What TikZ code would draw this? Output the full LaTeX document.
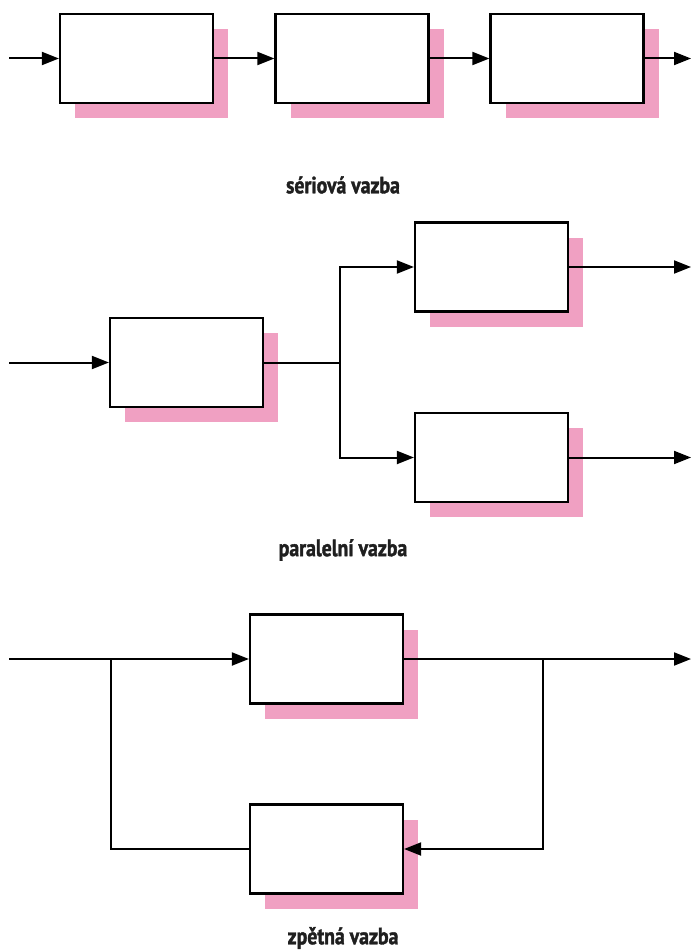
\documentclass[tikz,border=0pt]{standalone}
\usepackage{fontspec}
\setmainfont[FakeStretch=0.84,FakeBold=1.5]{PT Sans}
\usetikzlibrary{arrows.meta,shadows}
\definecolor{shpink}{RGB}{240,160,194}
\tikzset{
  blk/.style={draw=black, line width=2.2pt, fill=white, minimum width=153pt, minimum height=89pt, inner sep=0pt,
    drop shadow={shadow xshift=15pt, shadow yshift=-15pt, fill=shpink, opacity=1}},
  conn/.style={line width=2pt, -{Triangle[length=17pt,width=13pt]}},
  plain/.style={line width=2pt},
  lbl/.style={font=\bfseries\fontsize{23.5pt}{28pt}\selectfont, text=black!88}
}
\begin{document}
\begin{tikzpicture}[x=1pt,y=-1pt]
\useasboundingbox (0,0) rectangle (693,950);
% series
\coordinate (s0) at (9,58.5);
\node[blk] (s1) at (136.5,58.5) {};
\node[blk] (s2) at (352,58.5) {};
\node[blk] (s3) at (567,58.5) {};
\coordinate (s4) at (691,58.5);
\draw[conn] (s0) -- (s1.west);
\draw[conn] (s1.east) -- (s2.west);
\draw[conn] (s2.east) -- (s3.west);
\draw[conn] (s3.east) -- (s4);
\node[lbl] (l1) at (343,185) {sériová vazba};
% parallel
\coordinate (p0) at (9,362.5);
\node[blk] (pa) at (186.5,362.5) {};
\node[blk] (pu) at (491.5,267) {};
\node[blk] (pd) at (491.5,457.5) {};
\coordinate (pj) at (340,362.5);
\coordinate (pou) at (691,267);
\coordinate (pod) at (691,457.5);
\draw[conn] (p0) -- (pa.west);
\draw[plain] (pa.east) -- (pj);
\draw[conn] (pj) |- (pu.west);
\draw[conn] (pj) |- (pd.west);
\draw[conn] (pu.east) -- (pou);
\draw[conn] (pd.east) -- (pod);
\node[lbl] (l2) at (343,550) {paralelní vazba};
% feedback
\coordinate (f0) at (9,659);
\node[blk] (fu) at (326.5,659) {};
\node[blk] (fd) at (326.5,849) {};
\coordinate (fo) at (691,659);
\coordinate (fr) at (543,659);
\coordinate (fl) at (111,659);
\draw[conn] (f0) -- (fu.west);
\draw[conn] (fu.east) -- (fo);
\draw[conn] (fr) |- (fd.east);
\draw[plain] (fd.west) -| (fl);
\node[lbl] (l3) at (343,938) {zpětná vazba};
\end{tikzpicture}
\end{document}
